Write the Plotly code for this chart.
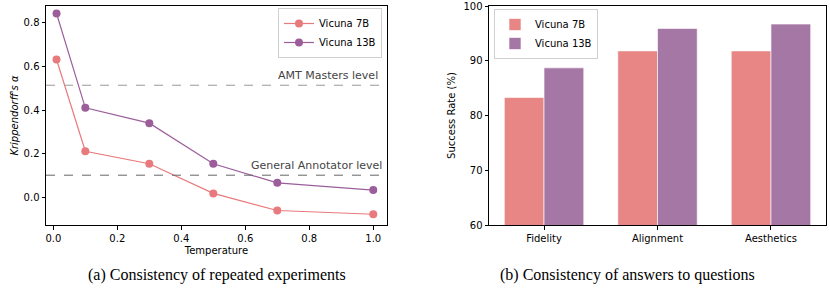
import plotly.graph_objects as go

# ---- data ----
temperature = [0.01, 0.1, 0.3, 0.5, 0.7, 1.0]
alpha_7b = [0.63, 0.212, 0.155, 0.02, -0.058, -0.075]
alpha_13b = [0.84, 0.41, 0.34, 0.155, 0.068, 0.035]
amt_level = 0.513
general_level = 0.103

categories = ["Fidelity", "Alignment", "Aesthetics"]
success_7b = [83.3, 91.8, 91.8]
success_13b = [88.7, 95.9, 96.7]

c7_line = "#E8797C"
c13_line = "#9B5E9B"
c7_bar = "#E88686"
c13_bar = "#A577A5"

FONT = "DejaVu Sans"
fig = go.Figure()

fig.add_trace(go.Scatter(x=temperature, y=alpha_7b, mode="lines+markers", name="Vicuna 7B",
                         line=dict(color=c7_line, width=1.2), marker=dict(color=c7_line, size=8),
                         xaxis="x", yaxis="y", legend="legend"))
fig.add_trace(go.Scatter(x=temperature, y=alpha_13b, mode="lines+markers", name="Vicuna 13B",
                         line=dict(color=c13_line, width=1.2), marker=dict(color=c13_line, size=8),
                         xaxis="x", yaxis="y", legend="legend"))

xi = list(range(len(categories)))
fig.add_trace(go.Bar(x=xi, y=success_7b, name="Vicuna 7B", width=0.35, offset=-0.35,
                     marker=dict(color=c7_bar, line=dict(color="rgba(255,255,255,0.6)", width=1)),
                     base=0, xaxis="x2", yaxis="y2", legend="legend2"))
fig.add_trace(go.Bar(x=xi, y=success_13b, name="Vicuna 13B", width=0.35, offset=0.0,
                     marker=dict(color=c13_bar, line=dict(color="rgba(255,255,255,0.6)", width=1)),
                     base=0, xaxis="x2", yaxis="y2", legend="legend2"))

axis_common = dict(showline=True, linecolor="black", linewidth=1, mirror=True, automargin=False,
                   ticklabeloverflow="allow",
                   ticks="outside", ticklen=3.5, tickcolor="black", showgrid=False, zeroline=False,
                   tickfont=dict(family=FONT, size=10, color="black"))

ytop = 1 - 6 / 291
ybot = 1 - 225 / 291

fig.update_layout(
    template="none",
    width=830, height=291, margin=dict(l=0, r=0, t=0, b=0, autoexpand=False),
    paper_bgcolor="white", plot_bgcolor="white", barmode="overlay",
    font=dict(family=FONT, size=10, color="black"),
    xaxis=dict(domain=[46 / 830, 387 / 830], range=[-0.0229, 1.0429], tickvals=[0, 0.2, 0.4, 0.6, 0.8, 1.0],
               ticktext=["0.0", "0.2", "0.4", "0.6", "0.8", "1.0"], anchor="y",
               title=dict(text="Temperature", font=dict(family=FONT, size=10), standoff=4), **axis_common),
    yaxis=dict(domain=[ybot, ytop], range=[-0.124, 0.874], tickvals=[0, 0.2, 0.4, 0.6, 0.8],
               ticktext=["0.0", "0.2", "0.4", "0.6", "0.8"], anchor="x",
               title=dict(text="<i>Krippendorff's α</i>", font=dict(family=FONT, size=10), standoff=3), **axis_common),
    xaxis2=dict(domain=[489 / 830, 826 / 830], range=[-0.485, 2.485], tickvals=xi, ticktext=categories,
                anchor="y2", **axis_common),
    yaxis2=dict(domain=[ybot, ytop], range=[60, 100], tickvals=[60, 70, 80, 90, 100],
                ticktext=["60", "70", "80", "90", "100"], anchor="x2",
                title=dict(text="Success Rate (%)", font=dict(family=FONT, size=10), standoff=5), **axis_common),
    legend=dict(x=382 / 830, y=1 - 8 / 291, xanchor="right", yanchor="top", bgcolor="rgba(255,255,255,0.8)",
                bordercolor="#d0d0d0", borderwidth=1, font=dict(family=FONT, size=10),
                tracegroupgap=0, itemwidth=30),
    legend2=dict(x=494 / 830, y=1 - 9 / 291, xanchor="left", yanchor="top", bgcolor="rgba(255,255,255,0.8)",
                 bordercolor="#d0d0d0", borderwidth=1, font=dict(family=FONT, size=10),
                 tracegroupgap=0, itemwidth=30),
)

fig.add_shape(type="line", xref="x domain", yref="y", x0=0, x1=1, y0=amt_level, y1=amt_level,
              line=dict(color="#999999", width=1, dash="dash"))
fig.add_shape(type="line", xref="x domain", yref="y", x0=0, x1=1, y0=general_level, y1=general_level,
              line=dict(color="#666666", width=1, dash="dash"))
fig.add_annotation(xref="x domain", yref="y", x=0.98, y=amt_level, text="AMT Masters level",
                   showarrow=False, xanchor="right", yanchor="bottom", yshift=1,
                   font=dict(family=FONT, size=11, color="#444444"))
fig.add_annotation(xref="x domain", yref="y", x=0.99, y=general_level, text="General Annotator level",
                   showarrow=False, xanchor="right", yanchor="bottom", yshift=1,
                   font=dict(family=FONT, size=11, color="#444444"))

fig.add_annotation(xref="paper", yref="paper", x=217 / 830, y=1 - 275 / 291, xanchor="center", yanchor="middle",
                   text="(a) Consistency of repeated experiments", showarrow=False,
                   font=dict(family="Liberation Serif", size=16, color="black"))
fig.add_annotation(xref="paper", yref="paper", x=627 / 830, y=1 - 275 / 291, xanchor="center", yanchor="middle",
                   text="(b) Consistency of answers to questions", showarrow=False,
                   font=dict(family="Liberation Serif", size=16, color="black"))

fig.write_html("out.html", config={"displayModeBar": False},
               post_script="document.body.style.margin='0';document.body.style.overflow='hidden';")
